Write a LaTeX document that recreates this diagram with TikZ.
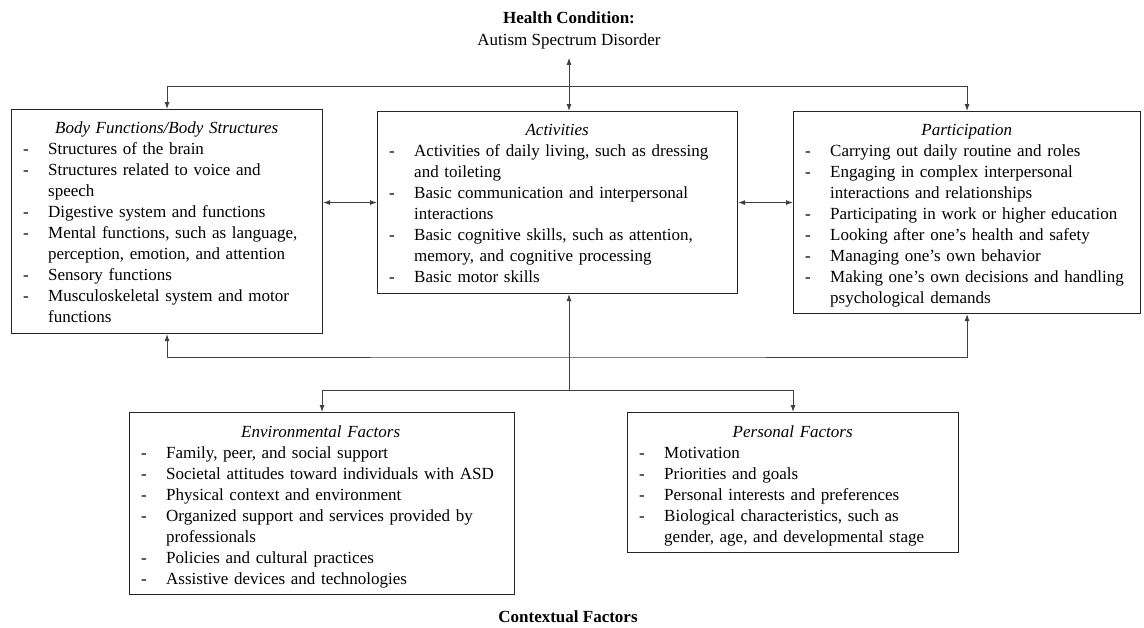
\documentclass[tikz,border=0pt]{standalone}
\usepackage{fontspec}
\setmainfont{Liberation Serif}
\usetikzlibrary{arrows.meta,calc}
\tikzset{>={Latex[length=7pt,width=5pt]}}
\tikzstyle{frame}=[rectangle,draw=black!85,line width=1.1pt,anchor=north west,inner sep=0pt]
\tikzstyle{listing}=[anchor=north west,inner sep=0pt,align=left,font=\fontsize{17}{21}\selectfont,execute at begin node={\hyphenpenalty=10000 \exhyphenpenalty=10000 }]
\tikzstyle{heading}=[align=center,inner xsep=0pt,inner ysep=9pt,font=\fontsize{17}{22}\selectfont\bfseries]
\tikzstyle{link}=[draw=black!75,line width=0.9pt]

\newcommand{\entry}[1]{\par\noindent\hangindent=25pt\hangafter=1\makebox[25pt][l]{-}#1}
\newcommand{\boxtitle}[1]{{\centering\itshape #1\par}}

\begin{document}
\begin{tikzpicture}[x=1pt,y=-1pt]
\def \lx {12};
\def \ly {13};
\useasboundingbox (0,0) rectangle (1144,627);

\node[heading] (hc) at (569,30) {Health Condition:\\{\mdseries Autism Spectrum Disorder}};

\node[frame,minimum width=311pt,minimum height=224pt] (body) at (11,109) {};
\node[frame,minimum width=360pt,minimum height=182pt] (act) at (377,111) {};
\node[frame,minimum width=347pt,minimum height=202pt] (part) at (793,111) {};
\node[frame,minimum width=385pt,minimum height=182pt] (env) at (129,412) {};
\node[frame,minimum width=331pt,minimum height=140pt] (pers) at (627,412) {};

\node[listing,text width=287pt] (bodytxt) at ($(body.north west)+(\lx,\ly)$) {%
\boxtitle{Body Functions/Body Structures}
\entry{Structures of the brain}
\entry{Structures related to voice and\newline speech}
\entry{Digestive system and functions}
\entry{Mental functions, such as language,\newline perception, emotion, and attention}
\entry{Sensory functions}
\entry{Musculoskeletal system and motor\newline functions}\par};

\node[listing,text width=336pt] (acttxt) at ($(act.north west)+(\lx,\ly)$) {%
\boxtitle{Activities}
\entry{Activities of daily living, such as dressing\newline and toileting}
\entry{Basic communication and interpersonal\newline interactions}
\entry{Basic cognitive skills, such as attention,\newline memory, and cognitive processing}
\entry{Basic motor skills}\par};

\node[listing,text width=323pt] (parttxt) at ($(part.north west)+(\lx,\ly)$) {%
\boxtitle{Participation}
\entry{Carrying out daily routine and roles}
\entry{Engaging in complex interpersonal\newline interactions and relationships}
\entry{Participating in work or higher education}
\entry{Looking after one’s health and safety}
\entry{Managing one’s own behavior}
\entry{Making one’s own decisions and handling\newline psychological demands}\par};

\node[listing,text width=359pt] (envtxt) at ($(env.north west)+(\lx,\ly)$) {%
\boxtitle{Environmental Factors}
\entry{Family, peer, and social support}
\entry{Societal attitudes toward individuals with ASD}
\entry{Physical context and environment}
\entry{Organized support and services provided by\newline professionals}
\entry{Policies and cultural practices}
\entry{Assistive devices and technologies}\par};

\node[listing,text width=307pt] (perstxt) at ($(pers.north west)+(\lx,\ly)$) {%
\boxtitle{Personal Factors}
\entry{Motivation}
\entry{Priorities and goals}
\entry{Personal interests and preferences}
\entry{Biological characteristics, such as\newline gender, age, and developmental stage}\par};

\node[heading] (ctxlabel) at (568,617) {Contextual Factors};

\coordinate (top) at (569,86);
\coordinate (low) at (569,357);
\coordinate (ctx) at (569,390);

\draw[link,<->] (hc.south) -- (hc.south |- act.north);
\draw[link,->] (top) -| (body.north);
\draw[link,->] (top) -| (part.north);

\draw[link,<->] (body.east |- act.west) -- (act.west);
\draw[link,<->] (act.east) -- (act.east -| part.west);

\draw[link,<->] (body.south) |- (low) -| (part.south);
\draw[link,->] (ctx) -- (ctx |- act.south);
\draw[link,->] (ctx) -| (env.north);
\draw[link,->] (ctx) -| (pers.north);

\end{tikzpicture}
\end{document}
